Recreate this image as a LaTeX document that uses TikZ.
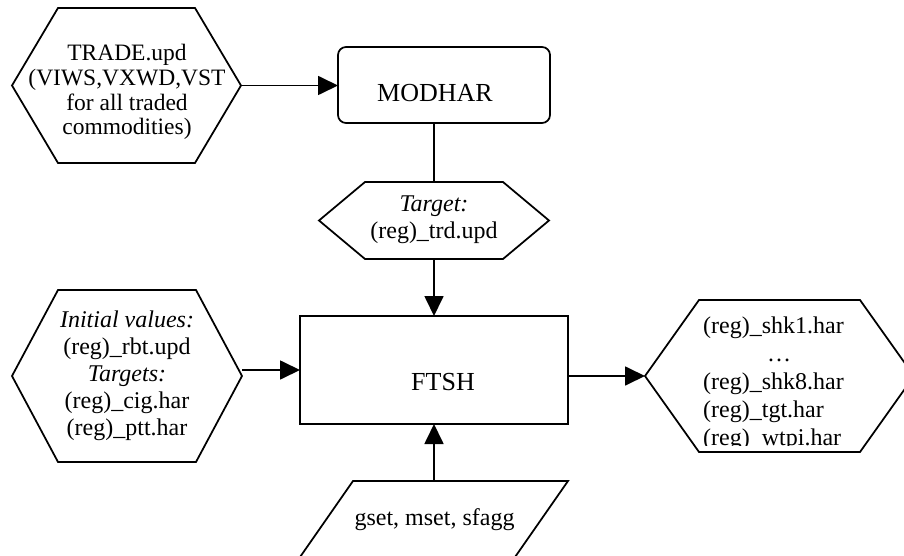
\documentclass[tikz,border=0pt]{standalone}
\usepackage{fontspec}
\setmainfont{Liberation Serif}
\usetikzlibrary{arrows.meta,calc}

\tikzset{
  shapeline/.style={line width=1.75pt, line join=miter},
  frame/.style={draw=none, inner sep=0pt, outer sep=0pt},
  conn/.style={line width=1.75pt},
  arr/.style={conn, -{Triangle[length=20pt,width=19pt]}},
  txt/.style={inner sep=0pt, align=center, font=\fontsize{24}{27}\selectfont},
  bigtxt/.style={inner sep=0pt, font=\fontsize{26}{30}\selectfont},
}

% hexagon drawn on the bounding frame of a node: #1 node name, #2 inset of the top/bottom edges
\newcommand\hexagonpath[2]{%
  \draw[shapeline] (#1.west) -- ([xshift=#2]#1.north west) -- ([xshift=-#2]#1.north east)
    -- (#1.east) -- ([xshift=-#2]#1.south east) -- ([xshift=#2]#1.south west) -- cycle;}

\begin{document}
\begin{tikzpicture}[x=1pt, y=-1pt]
  \useasboundingbox (0,0) rectangle (904,556);
  \fill[white] (0,0) rectangle (904,556);
  \clip (0,0) rectangle (904,556);

  % frames of the shapes
  \node[frame, minimum width=229pt, minimum height=155pt] (trade) at (126.5,85.5) {};
  \node[frame, draw, shapeline, rounded corners=8pt, minimum width=212pt, minimum height=76pt] (modhar) at (444,85) {};
  \node[frame, minimum width=230pt, minimum height=77pt] (target) at (434,220.5) {};
  \node[frame, minimum width=230pt, minimum height=172pt] (initial) at (127,376) {};
  \node[frame, draw, shapeline, minimum width=268pt, minimum height=108pt] (ftsh) at (434,370) {};
  \node[frame, minimum width=269pt, minimum height=152pt] (results) at (779.5,376) {};
  \node[frame, minimum width=215pt, minimum height=89pt] (params) at (460.5,525.5) {};

  % outlines
  \hexagonpath{trade}{46pt}
  \hexagonpath{target}{46pt}
  \hexagonpath{initial}{46pt}
  \hexagonpath{results}{54pt}
  \draw[shapeline] (params.north west) -- (params.north east)
    -- ([xshift=-62pt]params.south east) -- ([xshift=-62pt]params.south west) -- cycle;

  % texts
  \node[txt, font=\fontsize{23.5}{24.7}\selectfont] (trade-text) at (127,92.1)
    {TRADE.upd\\(VIWS,VXWD,VST\\for all traded\\commodities)};
  \node[bigtxt, anchor=base] (modhar-text) at (435,102) {MODHAR};
  \node[txt] (target-text) at (434,220.2) {\textit{Target:}\\(reg)\_trd.upd};
  \node[txt] (initial-text) at (127,375.4)
    {\textit{Initial values:}\\(reg)\_rbt.upd\\\textit{Targets:}\\(reg)\_cig.har\\(reg)\_ptt.har};
  \node[bigtxt, anchor=base] (ftsh-text) at (443,390) {FTSH};
  \node[txt, anchor=base] (params-text) at (434.5,525) {gset, mset, sfagg};
  \begin{scope}
    \clip (600,300) rectangle (904,445);
    \node[txt, align=left, anchor=north west, font=\fontsize{24}{28}\selectfont] (results-text) at (703,316.6)
      {(reg)\_shk1.har\\\hspace*{64pt}…\\(reg)\_shk8.har\\(reg)\_tgt.har\\(reg)\_wtpi.har};
  \end{scope}

  % connectors
  \draw[arr] (trade.east) -- (trade.east -| modhar.west);
  \draw[conn] (target.north |- modhar.south) -- (target.north);
  \draw[arr] (target.south) -- (target.south |- ftsh.north);
  \draw[arr] (initial.east |- ftsh.west) -- (ftsh.west);
  \draw[arr] (ftsh.east |- results.west) -- (results.west);
  \draw[arr] (params.north -| ftsh.south) -- (ftsh.south);
\end{tikzpicture}
\end{document}
